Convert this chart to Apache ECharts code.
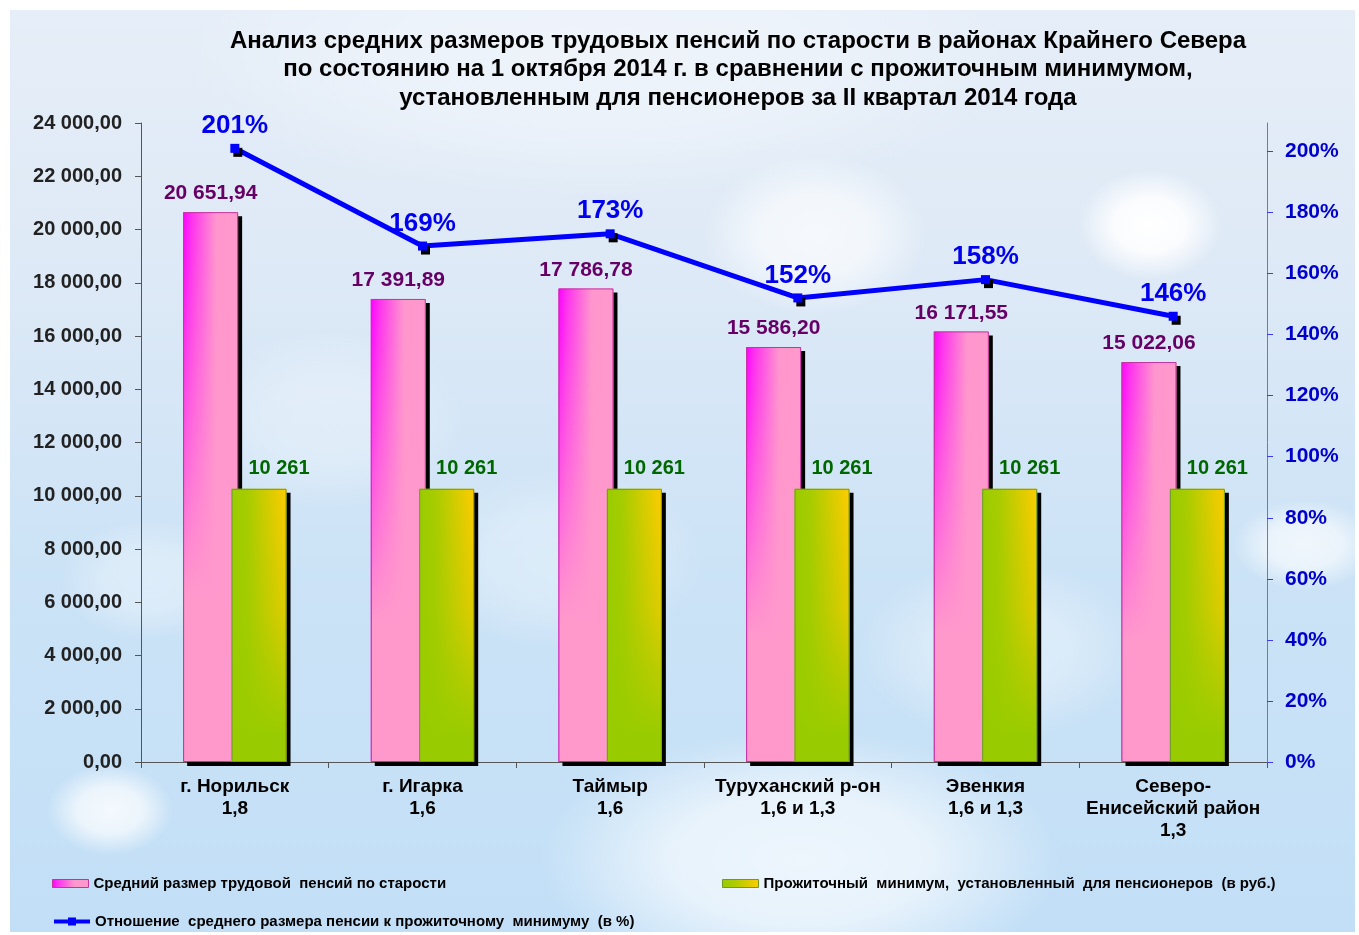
<!DOCTYPE html>
<html><head><meta charset="utf-8">
<script src="https://cdn.jsdelivr.net/npm/echarts@6/dist/echarts.min.js"></script>
<style>html,body{margin:0;padding:0;background:#fff}#c{width:1359px;height:935px}</style>
</head><body><div id="c"></div>
<script>
const titleText = 'Анализ средних размеров трудовых пенсий по старости в районах Крайнего Севера\nпо состоянию на 1 октября 2014 г. в сравнении с прожиточным минимумом,\nустановленным для пенсионеров за II квартал 2014 года';
const categories = ['г. Норильск\n1,8', 'г. Игарка\n1,6', 'Таймыр\n1,6', 'Туруханский р-он\n1,6 и 1,3', 'Эвенкия\n1,6 и 1,3', 'Северо-\nЕнисейский район\n1,3'];
const pensionValues = [20651.94, 17391.89, 17786.78, 15586.20, 16171.55, 15022.06];
const minimumValues = [10261, 10261, 10261, 10261, 10261, 10261];
const ratioValues = [201, 169, 173, 152, 158, 146];
const seriesNames = ['Средний размер трудовой  пенсий по старости', 'Прожиточный  минимум,  установленный  для пенсионеров  (в руб.)', 'Отношение  среднего размера пенсии к прожиточному  минимуму  (в %)'];

const FONT = "'Liberation Sans', Arial, sans-serif";
function fmt(v, d) {
  const s = Number(v).toFixed(d);
  let parts = s.split('.');
  let i = parts[0].replace(/\B(?=(\d{3})+(?!\d))/g, ' ');
  return parts[1] ? i + ',' + parts[1] : i;
}
const G = echarts.graphic;
const pinkH = new G.LinearGradient(0, 0, 1, 0, [
  {offset: 0, color: '#FF00FF'}, {offset: 0.15, color: '#FF30F0'}, {offset: 0.6, color: '#FF96CE'}, {offset: 1, color: '#FF99CC'}]);
const pinkV = new G.LinearGradient(0, 0, 0, 1, [
  {offset: 0, color: 'rgba(255,153,204,0)'}, {offset: 0.1, color: 'rgba(255,153,204,0.1)'}, {offset: 0.7, color: 'rgba(255,153,204,1)'}, {offset: 1, color: 'rgba(255,153,204,1)'}]);
const greenH = new G.LinearGradient(0, 0, 1, 0, [
  {offset: 0, color: '#99CC00'}, {offset: 0.3, color: '#A8CC00'}, {offset: 1, color: '#FFCC00'}]);
const greenV = new G.LinearGradient(0, 0, 0, 1, [
  {offset: 0, color: 'rgba(153,204,0,0)'}, {offset: 0.45, color: 'rgba(153,204,0,0.3)'}, {offset: 0.9, color: 'rgba(153,204,0,1)'}, {offset: 1, color: 'rgba(153,204,0,1)'}]);

function cloud(cx, cy, r, op, sx) {
  return {type: 'circle', z: -9, silent: true, x: cx, y: cy, scaleX: sx || 1, shape: {cx: 0, cy: 0, r: r},
    style: {fill: new G.RadialGradient(0.5, 0.5, 0.5, [
      {offset: 0, color: 'rgba(255,255,255,' + op + ')'},
      {offset: 0.5, color: 'rgba(255,255,255,' + (op * 0.85) + ')'},
      {offset: 1, color: 'rgba(255,255,255,0)'}])}};
}

const chart = echarts.init(document.getElementById('c'), null, {renderer: 'canvas'});
const labelFont = {fontFamily: FONT, fontWeight: 'bold'};
chart.setOption({
  animation: false,
  backgroundColor: '#ffffff',
  graphic: {elements: [
    {type: 'rect', z: -10, silent: true, shape: {x: 10, y: 10, width: 1345, height: 922},
      style: {fill: new G.LinearGradient(0, 0, 0, 1, [
        {offset: 0, color: '#E6EEF8'}, {offset: 0.3, color: '#DDE9F6'}, {offset: 0.6, color: '#CCE3F6'}, {offset: 1, color: '#C2DFF7'}])}},
    cloud(1150, 225, 55, 1, 1.3),
    cloud(815, 235, 80, 0.7, 1.4),
    cloud(800, 860, 130, 0.7, 2.0),
    cloud(110, 810, 45, 0.8, 1.4),
    cloud(1305, 545, 45, 0.7, 1.6),
    cloud(600, 60, 140, 0.35, 3.0),
    cloud(330, 420, 90, 0.3, 1.5),
    cloud(560, 560, 90, 0.3, 1.6),
    cloud(1000, 650, 90, 0.35, 1.6),
    cloud(150, 580, 60, 0.35, 1.5)
  ]},
  title: {
    text: titleText, left: 733, top: 22, textAlign: 'center',
    textStyle: {fontFamily: FONT, fontWeight: 'bold', fontSize: 24, lineHeight: 28.5, color: '#000'}
  },
  legend: [
    {data: [seriesNames[0]], left: 52, top: 876, padding: 0, itemWidth: 36, itemHeight: 8, icon: 'rect',
      itemStyle: {borderColor: '#C2359E', borderWidth: 1, shadowBlur: 0, shadowOffsetX: 0, shadowOffsetY: 0},
      textStyle: {fontFamily: FONT, fontWeight: 'bold', fontSize: 15, color: '#000'}},
    {data: [seriesNames[1]], left: 722, top: 876, padding: 0, itemWidth: 36, itemHeight: 8, icon: 'rect',
      itemStyle: {borderColor: '#6E9A2A', borderWidth: 1, shadowBlur: 0, shadowOffsetX: 0, shadowOffsetY: 0},
      textStyle: {fontFamily: FONT, fontWeight: 'bold', fontSize: 15, color: '#000'}},
    {data: [seriesNames[2]], left: 52, top: 914, padding: 0, itemWidth: 36, itemHeight: 10,
      lineStyle: {width: 4},
      textStyle: {fontFamily: FONT, fontWeight: 'bold', fontSize: 15, color: '#000'}}
  ],
  grid: {left: 141, right: 92, top: 123, bottom: 173},
  xAxis: [
    {type: 'category', data: categories,
      axisLine: {lineStyle: {color: '#555', width: 1}},
      axisTick: {show: true, length: 6, lineStyle: {color: '#555'}},
      axisLabel: Object.assign({color: '#000', fontSize: 19, lineHeight: 22, margin: 14, interval: 0}, labelFont)},
    {type: 'category', data: categories, show: false}
  ],
  yAxis: [
    {type: 'value', min: 0, max: 24000, interval: 2000, position: 'left',
      axisLine: {show: true, lineStyle: {color: '#555'}},
      axisTick: {show: true, length: 6, lineStyle: {color: '#555'}},
      splitLine: {show: false},
      axisLabel: Object.assign({color: '#222', fontSize: 20, margin: 19, formatter: function (v) { return fmt(v, 2); }}, labelFont)},
    {type: 'value', min: 0, max: 209.3, interval: 20, position: 'right',
      axisLine: {show: true, lineStyle: {color: '#6B6BFF'}},
      axisTick: {show: true, length: 6, lineStyle: {color: '#3A3AFF'}},
      splitLine: {show: false},
      axisLabel: Object.assign({color: '#0000CC', fontSize: 21, margin: 18, showMaxLabel: false, formatter: '{value}%'}, labelFont)}
  ],
  series: [
    {name: seriesNames[0], type: 'bar', xAxisIndex: 0, yAxisIndex: 0, data: pensionValues,
      barWidth: 55, barGap: '-12%',
      itemStyle: {color: pinkH, shadowColor: '#000', shadowOffsetX: 4, shadowOffsetY: 4, shadowBlur: 0},
      label: Object.assign({show: true, position: 'top', distance: 8, color: '#660066', fontSize: 21,
        formatter: function (p) { return fmt(p.value, 2); }}, labelFont)},
    {type: 'bar', xAxisIndex: 1, yAxisIndex: 0, data: pensionValues, silent: true,
      barWidth: 55, barGap: '-12%',
      itemStyle: {color: pinkV, borderColor: '#C2359E', borderWidth: 1}},
    {name: seriesNames[1], type: 'bar', xAxisIndex: 0, yAxisIndex: 0, data: minimumValues,
      barWidth: 55, barGap: '-12%',
      itemStyle: {color: greenH, shadowColor: '#000', shadowOffsetX: 4, shadowOffsetY: 4, shadowBlur: 0},
      label: Object.assign({show: true, position: 'top', distance: 10, offset: [20, 0], color: '#006600', fontSize: 20,
        formatter: function (p) { return fmt(p.value, 0); }}, labelFont)},
    {type: 'bar', xAxisIndex: 1, yAxisIndex: 0, data: minimumValues, silent: true,
      barWidth: 55, barGap: '-12%',
      itemStyle: {color: greenV, borderColor: '#6E9A2A', borderWidth: 1}},
    {name: seriesNames[2], type: 'line', xAxisIndex: 0, yAxisIndex: 1, data: ratioValues,
      symbol: 'rect', symbolSize: 9,
      lineStyle: {color: '#0000FF', width: 5},
      itemStyle: {color: '#0000FF', shadowColor: '#000', shadowOffsetX: 3, shadowOffsetY: 4, shadowBlur: 0},
      label: Object.assign({show: true, position: 'top', distance: 5, color: '#0000EE', fontSize: 26,
        formatter: '{c}%'}, labelFont)}
  ]
});
</script></body></html>
